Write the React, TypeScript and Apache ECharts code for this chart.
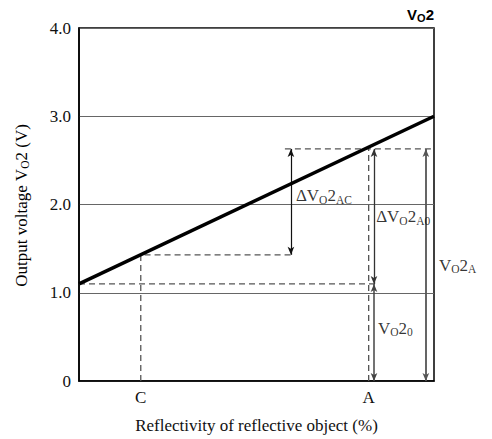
import React, { useEffect, useRef } from "react";
import * as echarts from "echarts";

// ---- data ----
const yTicks = [0, 1, 2, 3, 4];
const xKeys = ["C", "A"];
const xKeyPositions = [17.4, 81.6];
const responseX = [0, 100];
const responseY = [1.1, 3.0];
const vo2Zero = 1.1;
const vo2AtC = 1.43;
const vo2AtA = 2.63;
const zeroDashEnd = 84.2;
const acArrowX = 59.7;
const aDashStart = 58;
const a0ArrowX = 83.1;
const totalArrowX = 97.7;

const SERIF = "'Liberation Serif', 'Times New Roman', serif";
const DASH = "#555";

const richStyles = {
  n: { fontFamily: SERIF, fontSize: 17, color: "#000", lineHeight: 20, verticalAlign: "middle" },
  s: { fontFamily: SERIF, fontSize: 11.5, color: "#000", lineHeight: 12, verticalAlign: "bottom" },
};

const annotations = [
  { x: 61.1, y: 2.1, text: "{n|ΔV}{s|O}{n|2}{s|AC}" },
  { x: 83.7, y: 1.86, text: "{n|ΔV}{s|O}{n|2}{s|A0}" },
  { x: 101.4, y: 1.31, text: "{n|V}{s|O}{n|2}{s|A}" },
  { x: 84.2, y: 0.6, text: "{n|V}{s|O}{n|2}{s|0}" },
];

export default function App() {
  const ref = useRef<HTMLDivElement>(null);
  useEffect(() => {
    const chart = echarts.init(ref.current!, null, { renderer: "svg" });
    const dashed = (pts: number[][]) => ({
      type: "line",
      data: pts,
      symbol: "none",
      silent: true,
      lineStyle: { color: DASH, width: 1.3, type: [6, 4] },
      z: 3,
    });
    const arrow = (x: number, y1: number, y2: number, color: string, width: number) => [
      { coord: [x, y1], lineStyle: { color, width, type: "solid" } },
      { coord: [x, y2] },
    ];
    chart.setOption({
      animation: false,
      grid: {
        left: 79,
        right: 58,
        top: 28,
        bottom: 56,
        show: true,
        borderColor: "#000",
        borderWidth: 1.5,
        backgroundColor: "transparent",
      },
      xAxis: {
        type: "value",
        min: 0,
        max: 100,
        splitLine: { show: false },
        axisTick: { show: false },
        axisLine: { show: true, lineStyle: { color: "#000", width: 1.5 } },
        axisLabel: {
          customValues: xKeyPositions,
          formatter: (v: number) => {
            const i = xKeyPositions.findIndex((p) => Math.abs(p - v) < 0.01);
            return i >= 0 ? xKeys[i] : "";
          },
          fontFamily: SERIF,
          fontSize: 17,
          color: "#111",
          margin: 8,
        },
        name: "Reflectivity of reflective object (%)",
        nameLocation: "middle",
        nameGap: 36,
        nameTextStyle: { fontFamily: SERIF, fontSize: 17, color: "#111" },
      },
      yAxis: {
        type: "value",
        min: 0,
        max: 4,
        interval: 1,
        axisTick: { show: false },
        axisLine: { show: true, lineStyle: { color: "#000", width: 1.5 } },
        splitLine: { show: true, lineStyle: { color: "#666", width: 1.2 } },
        axisLabel: {
          formatter: (v: number) => (v === 0 ? "0" : v.toFixed(1)),
          fontFamily: SERIF,
          fontSize: 17,
          color: "#111",
          margin: 8,
          customValues: yTicks,
        },
      },
      graphic: [
        {
          type: "text",
          x: 21,
          y: 205.5,
          rotation: Math.PI / 2,
          style: {
            text: "{n|Output voltage V}{s|O}{n|2 (V)}",
            align: "center",
            verticalAlign: "middle",
            rich: richStyles,
          },
        },
        {
          type: "text",
          x: 434,
          y: 23,
          style: {
            text: "{b|V}{c|O}{b|2}",
            align: "right",
            verticalAlign: "bottom",
            rich: {
              b: { fontFamily: "'Liberation Sans', Arial, sans-serif", fontWeight: "bold", fontSize: 15, color: "#000", lineHeight: 17, verticalAlign: "middle" },
              c: { fontFamily: "'Liberation Sans', Arial, sans-serif", fontWeight: "bold", fontSize: 11, color: "#000", lineHeight: 11, verticalAlign: "bottom" },
            },
          },
        },
      ],
      series: [
        dashed([
          [0, vo2Zero],
          [zeroDashEnd, vo2Zero],
        ]),
        dashed([
          [xKeyPositions[0], 0],
          [xKeyPositions[0], vo2AtC],
          [acArrowX, vo2AtC],
        ]),
        dashed([
          [xKeyPositions[1], 0],
          [xKeyPositions[1], vo2AtA],
        ]),
        dashed([
          [aDashStart, vo2AtA],
          [100, vo2AtA],
        ]),
        {
          type: "line",
          data: responseX.map((x, i) => [x, responseY[i]]),
          symbol: "none",
          lineStyle: { color: "#000", width: 3.5 },
          z: 5,
          markLine: {
            silent: true,
            symbol: ["arrow", "arrow"],
            symbolSize: [5, 8],
            label: { show: false },
            animation: false,
            data: [
              arrow(acArrowX, vo2AtA, vo2AtC, "#111", 1.2),
              arrow(a0ArrowX, vo2AtA, vo2Zero, "#333", 1.3),
              arrow(a0ArrowX, vo2Zero, 0, "#444", 1.5),
              arrow(totalArrowX, vo2AtA, 0, "#555", 1.8),
            ],
          },
        },
        {
          type: "scatter",
          clip: false,
          symbolSize: 0,
          silent: true,
          data: annotations.map((a) => [a.x, a.y]),
          label: {
            show: true,
            position: "right",
            distance: 0,
            formatter: (p: any) => annotations[p.dataIndex].text,
            rich: richStyles,
          },
          z: 6,
        },
      ],
    });
    return () => chart.dispose();
  }, []);
  return (
    <div
      ref={ref}
      style={{ position: "absolute", left: 0, top: 0, width: 492, height: 439 }}
    />
  );
}
